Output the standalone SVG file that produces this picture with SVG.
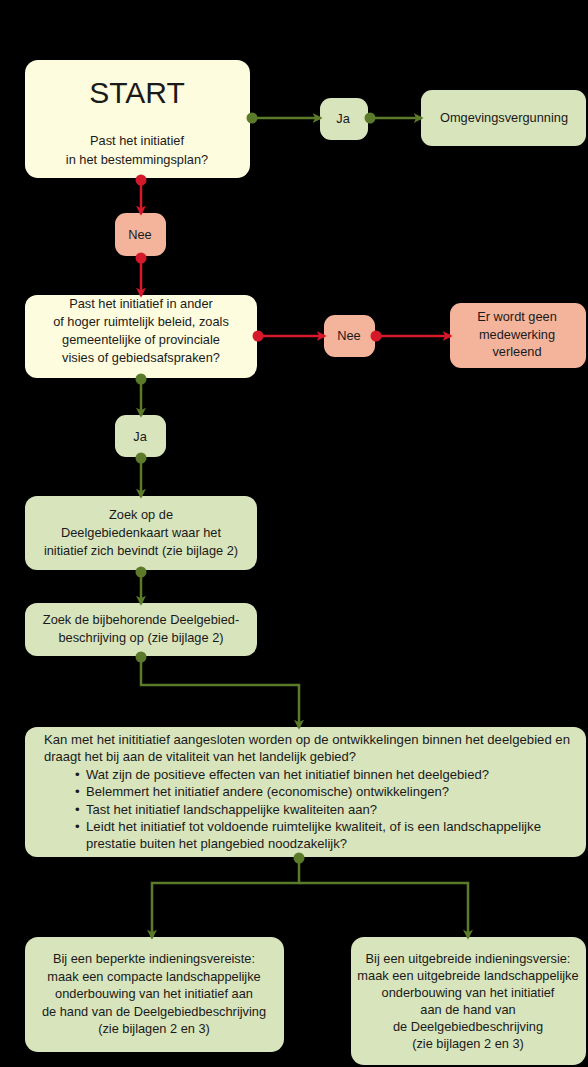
<svg xmlns="http://www.w3.org/2000/svg" width="588" height="1067" viewBox="0 0 588 1067">
<style>
.bg{fill:#000}
.cream{fill:#FEFCDE}
.green{fill:#D8E4BC}
.salmon{fill:#F4B49C}
text{font-family:"Liberation Sans","Noto Sans",sans-serif;font-size:12.8px;fill:#1a1a1a}
.c{text-anchor:middle}
.big text{font-size:13.3px}
.g{stroke:#5B7B2A;stroke-width:2.5;fill:none}
.r{stroke:#D6182B;stroke-width:2.5;fill:none}
.gd{fill:#5B7B2A}
.rd{fill:#D6182B}
</style>
<defs>
<marker id="ag" viewBox="0 0 12 12" refX="10" refY="6" markerWidth="10" markerHeight="10" markerUnits="userSpaceOnUse" orient="auto">
<path d="M0,0 L12,6 L0,12 L3,6 Z" fill="#5B7B2A"/>
</marker>
<marker id="ar" viewBox="0 0 12 12" refX="10" refY="6" markerWidth="10" markerHeight="10" markerUnits="userSpaceOnUse" orient="auto">
<path d="M0,0 L12,6 L0,12 L3,6 Z" fill="#D6182B"/>
</marker>
</defs>
<rect class="bg" width="588" height="1067"/>

<g id="start">
<rect class="cream" x="25" y="60" width="225" height="118" rx="13"/>
<text class="c" x="137" y="103" style="font-size:30px">START</text>
<text class="c" x="137" y="145">Past het initiatief</text>
<text class="c" x="137" y="164">in het bestemmingsplan?</text>
</g>
<g id="ja1">
<rect class="green" x="320" y="98" width="48" height="42" rx="11"/>
<text class="c" x="343" y="123">Ja</text>
</g>
<g id="omgevingsvergunning">
<rect class="green" x="421" y="90" width="165" height="56" rx="11"/>
<text class="c" x="504" y="122">Omgevingsvergunning</text>
</g>
<g id="nee1">
<rect class="salmon" x="115" y="213" width="51" height="43" rx="11"/>
<text class="c" x="140" y="239">Nee</text>
</g>
<g id="beleid">
<rect class="cream" x="25" y="295" width="232" height="83" rx="12"/>
<text class="c" x="141" y="308">Past het initiatief in ander</text>
<text class="c" x="141" y="326">of hoger ruimtelijk beleid, zoals</text>
<text class="c" x="141" y="344">gemeentelijke of provinciale</text>
<text class="c" x="141" y="362">visies of gebiedsafspraken?</text>
</g>
<g id="nee2">
<rect class="salmon" x="324" y="315" width="51" height="42" rx="11"/>
<text class="c" x="349" y="340">Nee</text>
</g>
<g id="geenmedewerking">
<rect class="salmon" x="450" y="303" width="136" height="65" rx="11"/>
<text class="c" x="517" y="321">Er wordt geen</text>
<text class="c" x="517" y="339">medewerking</text>
<text class="c" x="517" y="356">verleend</text>
</g>
<g id="ja2">
<rect class="green" x="115" y="415" width="51" height="42" rx="11"/>
<text class="c" x="140" y="441">Ja</text>
</g>
<g id="zoekkaart">
<rect class="green" x="25" y="496" width="232" height="74" rx="12"/>
<text class="c" x="141" y="519">Zoek op de</text>
<text class="c" x="141" y="537">Deelgebiedenkaart waar het</text>
<text class="c" x="141" y="555">initiatief zich bevindt (zie bijlage 2)</text>
</g>
<g id="zoekbeschrijving">
<rect class="green" x="25" y="603" width="232" height="53" rx="12"/>
<text class="c" x="141" y="624">Zoek de bijbehorende Deelgebied-</text>
<text class="c" x="141" y="642">beschrijving op (zie bijlage 2)</text>
</g>
<g id="vragen" class="big">
<rect class="green" x="25" y="727" width="561" height="130" rx="12"/>
<text x="44" y="744" textLength="526" lengthAdjust="spacingAndGlyphs">Kan met het inititiatief aangesloten worden op de ontwikkelingen binnen het deelgebied en</text>
<text x="44" y="761" textLength="312" lengthAdjust="spacingAndGlyphs">draagt het bij aan de vitaliteit van het landelijk gebied?</text>
<text x="75" y="779">•</text><text x="86" y="779" textLength="403" lengthAdjust="spacingAndGlyphs">Wat zijn de positieve effecten van het initiatief binnen het deelgebied?</text>
<text x="75" y="796">•</text><text x="86" y="796" textLength="363" lengthAdjust="spacingAndGlyphs">Belemmert het initiatief andere (economische) ontwikkelingen?</text>
<text x="75" y="814">•</text><text x="86" y="814" textLength="291" lengthAdjust="spacingAndGlyphs">Tast het initiatief landschappelijke kwaliteiten aan?</text>
<text x="75" y="831">•</text><text x="86" y="831" textLength="455" lengthAdjust="spacingAndGlyphs">Leidt het initiatief tot voldoende ruimtelijke kwaliteit, of is een landschappelijke</text>
<text x="86" y="848" textLength="261" lengthAdjust="spacingAndGlyphs">prestatie buiten het plangebied noodzakelijk?</text>
</g>
<g id="beperkt">
<rect class="green" x="25" y="937" width="259" height="115" rx="13"/>
<text class="c" x="154" y="963">Bij een beperkte indieningsvereiste:</text>
<text class="c" x="154" y="981">maak een compacte landschappelijke</text>
<text class="c" x="154" y="998">onderbouwing van het initiatief aan</text>
<text class="c" x="154" y="1016">de hand van de Deelgebiedbeschrijving</text>
<text class="c" x="154" y="1033">(zie bijlagen 2 en 3)</text>
</g>
<g id="uitgebreid">
<rect class="green" x="351" y="937" width="235" height="128" rx="13"/>
<text class="c" x="468" y="963">Bij een uitgebreide indieningsversie:</text>
<text class="c" x="468" y="980">maak een uitgebreide landschappelijke</text>
<text class="c" x="468" y="997">onderbouwing van het initiatief</text>
<text class="c" x="468" y="1014">aan de hand van</text>
<text class="c" x="468" y="1031">de Deelgebiedbeschrijving</text>
<text class="c" x="468" y="1048">(zie bijlagen 2 en 3)</text>
</g>

<g id="connectors">
<path class="g" d="M252,118 H321" marker-end="url(#ag)"/>
<circle class="gd" cx="252" cy="118" r="5.5"/>
<path class="g" d="M370,118 H422" marker-end="url(#ag)"/>
<circle class="gd" cx="370" cy="118" r="5.5"/>
<path class="r" d="M141,180 V214" marker-end="url(#ar)"/>
<circle class="rd" cx="141" cy="180" r="5.5"/>
<path class="r" d="M141,258 V296" marker-end="url(#ar)"/>
<circle class="rd" cx="141" cy="258" r="5.5"/>
<path class="r" d="M258,336 H325" marker-end="url(#ar)"/>
<circle class="rd" cx="258" cy="336" r="5.5"/>
<path class="r" d="M376,336 H451" marker-end="url(#ar)"/>
<circle class="rd" cx="376" cy="336" r="5.5"/>
<path class="g" d="M141,379 V416" marker-end="url(#ag)"/>
<circle class="gd" cx="141" cy="379" r="5.5"/>
<path class="g" d="M141,458 V497" marker-end="url(#ag)"/>
<circle class="gd" cx="141" cy="458" r="5.5"/>
<path class="g" d="M141,572 V604" marker-end="url(#ag)"/>
<circle class="gd" cx="141" cy="572" r="5.5"/>
<path class="g" d="M141,657 V685 H299 V728" marker-end="url(#ag)"/>
<circle class="gd" cx="141" cy="657" r="5.5"/>
<path class="g" d="M299,858 V883 H152 V938" marker-end="url(#ag)"/>
<path class="g" d="M299,883 H468 V938" marker-end="url(#ag)"/>
<circle class="gd" cx="299" cy="858" r="5.5"/>
</g>
</svg>
